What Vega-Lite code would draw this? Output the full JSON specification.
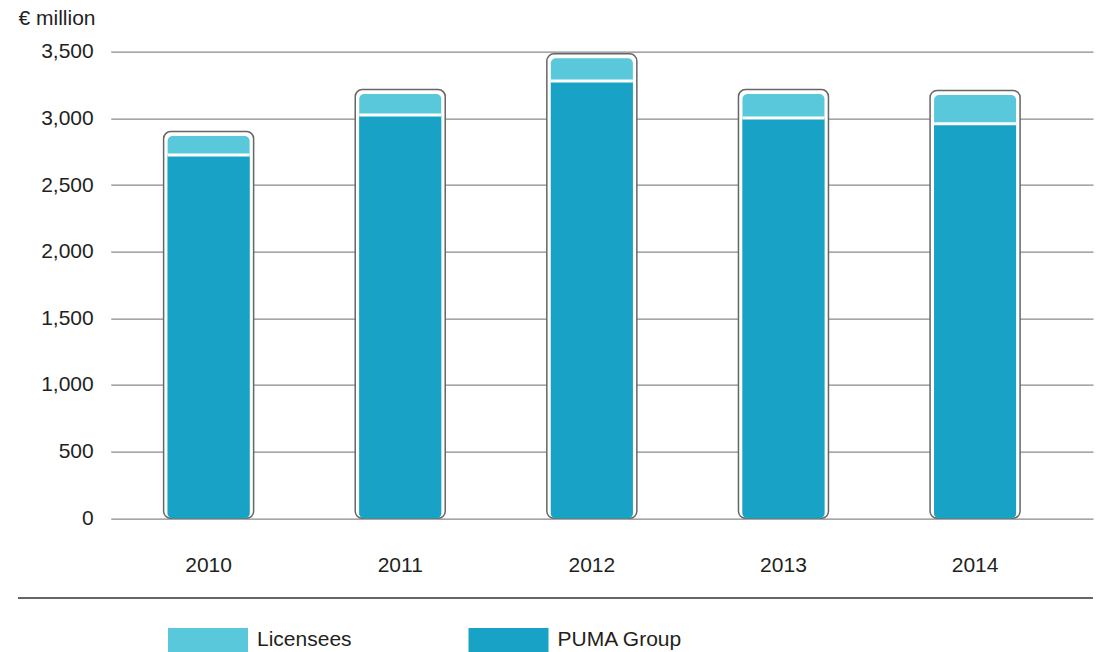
{
  "$schema": "https://vega.github.io/schema/vega-lite/v6.json",
  "autosize": "none",
  "width": 982.3,
  "height": 466.6,
  "padding": {"left": 110.7, "top": 51.7, "right": 9, "bottom": 133.7},
  "background": "white",
  "config": {
    "view": {"stroke": null},
    "font": "Liberation Sans",
    "axis": {"labelFont": "Liberation Sans", "titleFont": "Liberation Sans"},
    "legend": {"labelFont": "Liberation Sans"}
  },
  "data": {
    "values": [
      {"year": "2010", "series": "PUMA Group", "value": 2725},
      {"year": "2010", "series": "Licensees", "value": 142},
      {"year": "2011", "series": "PUMA Group", "value": 3025},
      {"year": "2011", "series": "Licensees", "value": 157},
      {"year": "2012", "series": "PUMA Group", "value": 3281},
      {"year": "2012", "series": "Licensees", "value": 169},
      {"year": "2013", "series": "PUMA Group", "value": 3002},
      {"year": "2013", "series": "Licensees", "value": 180},
      {"year": "2014", "series": "PUMA Group", "value": 2959},
      {"year": "2014", "series": "Licensees", "value": 216}
    ]
  },
  "layer": [
    {
      "mark": {
        "type": "bar",
        "size": 90,
        "fill": "white",
        "stroke": "#666666",
        "strokeWidth": 1.5,
        "cornerRadius": 7,
        "yOffset": -4.5,
        "y2Offset": 5
      },
      "encoding": {
        "x": {
          "field": "year",
          "type": "nominal",
          "scale": {"paddingInner": 0, "paddingOuter": 0.0632, "align": 0.087},
          "axis": {
            "title": null,
            "labelAngle": 0,
            "domain": false,
            "ticks": false,
            "grid": false,
            "labelFontSize": 21,
            "labelColor": "#231f20",
            "labelBaseline": "alphabetic",
            "labelPadding": 53
          }
        },
        "y": {
          "aggregate": "sum",
          "field": "value",
          "type": "quantitative",
          "stack": null,
          "scale": {"domain": [0, 3500], "nice": false},
          "axis": {
            "values": [0, 500, 1000, 1500, 2000, 2500, 3000, 3500],
            "format": ",.0f",
            "grid": true,
            "gridColor": "#8a8a8a",
            "gridWidth": 1.3,
            "domain": false,
            "ticks": false,
            "labelFontSize": 21,
            "labelColor": "#231f20",
            "labelPadding": 17.5,
            "title": "€ million",
            "titleAngle": 0,
            "titleAlign": "left",
            "titleBaseline": "alphabetic",
            "titleFontSize": 21,
            "titleFontWeight": "normal",
            "titleColor": "#231f20",
            "titleX": -92.7,
            "titleY": -27
          }
        }
      }
    },
    {
      "mark": {"type": "bar", "size": 82, "cornerRadius": 5},
      "encoding": {
        "x": {"field": "year", "type": "nominal"},
        "y": {"aggregate": "sum", "field": "value", "type": "quantitative", "stack": null},
        "color": {
          "datum": "Licensees",
          "type": "nominal",
          "scale": {"domain": ["Licensees", "PUMA Group"], "range": ["#58c8da", "#18a3c6"]},
          "legend": {
            "title": null,
            "orient": "none",
            "direction": "horizontal",
            "legendX": 57.3,
            "legendY": 548.3,
            "symbolType": "M-1,-0.3H1V0.3H-1Z",
            "symbolSize": 6400,
            "symbolStrokeWidth": 0,
            "symbolOpacity": 1,
            "labelFontSize": 21,
            "labelColor": "#231f20",
            "labelOffset": 9,
            "columnPadding": 116.5
          }
        }
      }
    },
    {
      "transform": [{"filter": "datum.series == 'PUMA Group'"}],
      "mark": {"type": "bar", "size": 82, "cornerRadiusBottomLeft": 5, "cornerRadiusBottomRight": 5},
      "encoding": {
        "x": {"field": "year", "type": "nominal"},
        "y": {"field": "value", "type": "quantitative", "stack": null},
        "color": {"datum": "PUMA Group", "type": "nominal"}
      }
    },
    {
      "transform": [{"filter": "datum.series == 'PUMA Group'"}],
      "mark": {"type": "tick", "size": 82, "thickness": 3, "color": "white", "opacity": 1},
      "encoding": {
        "x": {"field": "year", "type": "nominal"},
        "y": {"field": "value", "type": "quantitative"}
      }
    },
    {
      "mark": {"type": "rule", "color": "#666666", "strokeWidth": 1.5, "xOffset": -92.7},
      "encoding": {
        "x": {"value": 0},
        "x2": {"value": "width"},
        "y": {"datum": -600, "type": "quantitative"}
      }
    }
  ]
}
